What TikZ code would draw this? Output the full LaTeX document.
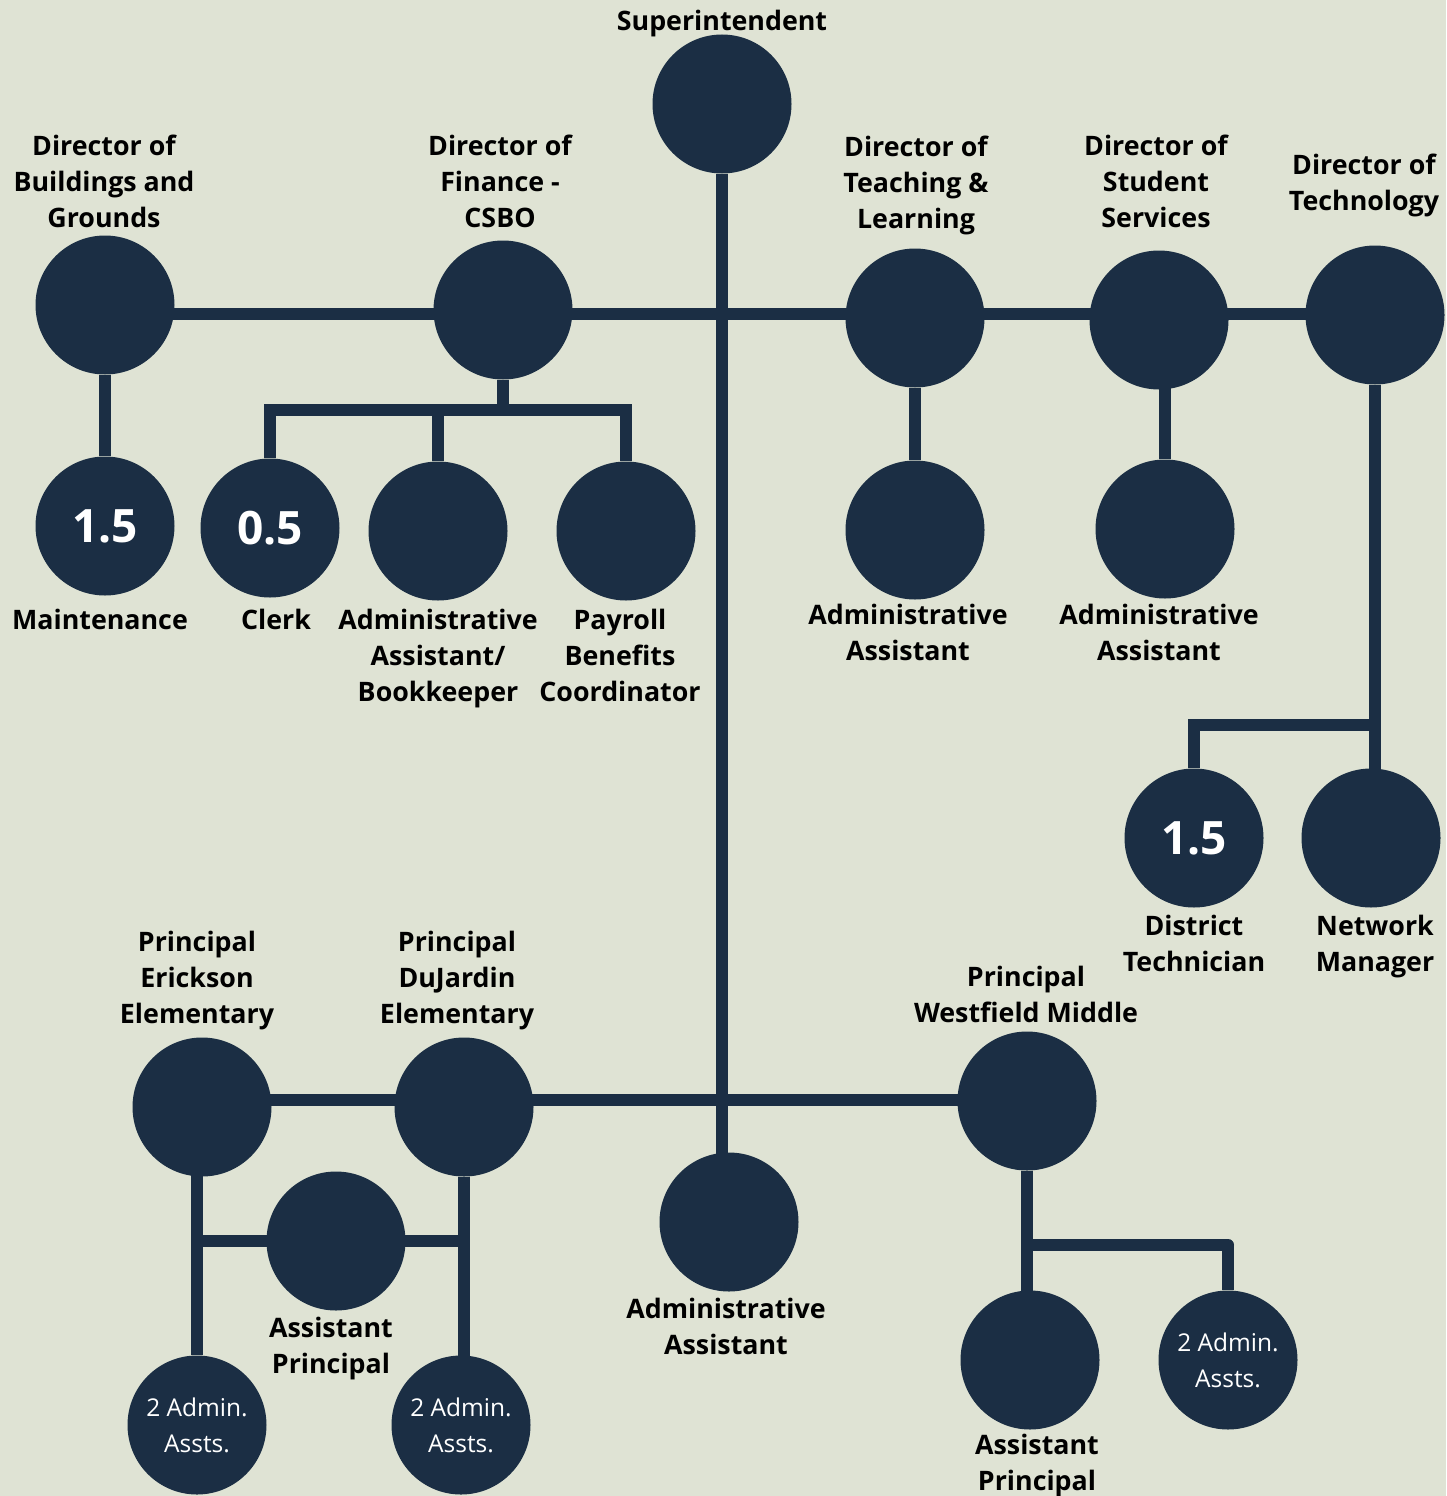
\documentclass[tikz,border=0pt]{standalone}
\usepackage{fontspec}
\setmainfont{Open Sans}
\usetikzlibrary{positioning,backgrounds}
\definecolor{ChartNavy}{HTML}{1B2E44}
\definecolor{ChartSage}{HTML}{DFE3D4}

\tikzset{
  post/.style={circle,fill=ChartNavy,minimum size=139pt,inner sep=0pt,text=white},
  fte/.style={font=\bfseries\fontsize{46}{50}\selectfont},
  staff/.style={font=\fontsize{24.5}{36}\selectfont,align=center},
  title/.style={font=\bfseries\fontsize{26.8}{36}\selectfont,align=center,inner sep=0pt},
  link/.style={ChartNavy,line width=12pt}
}

\begin{document}
\begin{tikzpicture}[x=1pt,y=-1pt,line cap=butt,line join=miter]

\useasboundingbox (0,0) rectangle (1446,1496);

% ---- DISTRICT OFFICE ----
\node[post] (sup)   at (722,104) {};
\node[post] (bldg)  at (105,305) {};
\node[post] (fin)   at (503,310) {};
\node[post] (teach) at (915,318) {};
\node[post] (stud)  at (1159,320) {};
\node[post] (tech)  at (1375,315) {};

% staff under the directors
\node[post,fte] (maint) at (105,526) {1.5};
\node[post,fte] (clerk) at (270,528) {0.5};
\node[post] (book)    at (438,531) {};
\node[post] (pay)     at (626,531) {};
\node[post] (teachAA) at (915,530) {};
\node[post] (studAA)  at (1165,529) {};
\node[post,fte] (distT) at (1194,838) {1.5};
\node[post] (netM)    at (1371,838) {};

% ---- BUILDINGS ----
\node[post] (erick) at (202,1107) {};
\node[post] (dujar) at (464,1107) {};
\node[post] (westf) at (1027,1101) {};
\node[post] (admin) at (729,1222) {};
\node[post] (apE)   at (336,1241) {};
\node[post] (apW)   at (1030,1360) {};
\node[post,staff] (assE) at (197,1425) {2 Admin.\\Assts.};
\node[post,staff] (assD) at (461,1425) {2 Admin.\\Assts.};
\node[post,staff] (assW) at (1228,1360) {2 Admin.\\Assts.};

% junctions on the lines
\coordinate (hubT) at (722,314);
\coordinate (hubB) at (722,1100);
\coordinate (finBar) at (500,410);
\coordinate (techBar) at (1377,725);
\coordinate (westBar) at (1030,1245);

% ---- LINES (behind the circles) ----
\begin{pgfonlayer}{background}
\fill[ChartSage] (0,0) rectangle (1446,1496);

\draw[link] (sup) -- (hubT) -- (hubB) -- (hubB |- admin);
\draw[link] (bldg |- hubT) -- (tech |- hubT);
\draw[link] (bldg) -- (maint);

% finance office
\draw[link] (fin) -- (fin |- finBar);
\draw[link] (clerk) -- (clerk |- finBar) -- (pay |- finBar) -- (pay);
\draw[link] (book) -- (book |- finBar);

\draw[link] (teach) -- (teachAA);
\draw[link] (studAA |- stud) -- (studAA);

% technology
\draw[link] (tech) -- (tech |- netM);
\draw[link] (distT) -- (distT |- techBar) -- (techBar);

% schools
\draw[link] (erick |- hubB) -- (westf |- hubB);
\draw[link] (assE |- erick) -- (assE);
\draw[link] (dujar) -- (dujar |- assD);
\draw[link] (assE |- apE) -- (dujar |- apE);
\draw[link] (westf) -- (westf |- apW);
\draw[link,line cap=round] (westBar) -- (assW |- westBar);
\draw[link] (assW) -- (assW |- westBar);
\end{pgfonlayer}

% ---- LABELS ----
\node[title,anchor=south] (supL)   at (722,37)   {Superintendent};
\node[title,anchor=south] (bldgL)  at (104,228)  {Director of\\Buildings and\\Grounds};
\node[title,anchor=south] (finL)   at (500,228)  {Director of\\Finance -\\CSBO};
\node[title,anchor=south] (teachL) at (916,235)  {Director of\\Teaching \&\\Learning};
\node[title,anchor=south] (studL)  at (1156,228) {Director of\\Student\\Services};
\node[title,anchor=south] (techL)  at (1364,217) {Director of\\Technology};

\node[title,anchor=north] (maintL)   at (100,609)  {Maintenance};
\node[title,anchor=north] (clerkL)   at (276,609)  {Clerk};
\node[title,anchor=north] (bookL)    at (438,609)  {Administrative\\Assistant/\\Bookkeeper};
\node[title,anchor=north] (payL)     at (620,609)  {Payroll\\Benefits\\Coordinator};
\node[title,anchor=north] (teachAAL) at (908,604)  {Administrative\\Assistant};
\node[title,anchor=north] (studAAL)  at (1159,604) {Administrative\\Assistant};
\node[title,anchor=north] (distTL)   at (1194,915) {District\\Technician};
\node[title,anchor=north] (netML)    at (1375,915) {Network\\Manager};

\node[title,anchor=south] (erickL) at (197,1030)  {Principal\\Erickson\\Elementary};
\node[title,anchor=south] (dujarL) at (457,1030)  {Principal\\DuJardin\\Elementary};
\node[title,anchor=south] (westfL) at (1026,1023) {Principal\\Westfield Middle};
\node[title,anchor=north] (apEL)   at (331,1317)  {Assistant\\Principal};
\node[title,anchor=north] (adminL) at (726,1298)  {Administrative\\Assistant};
\node[title,anchor=north] (apWL)   at (1037,1434) {Assistant\\Principal};

\end{tikzpicture}
\end{document}
